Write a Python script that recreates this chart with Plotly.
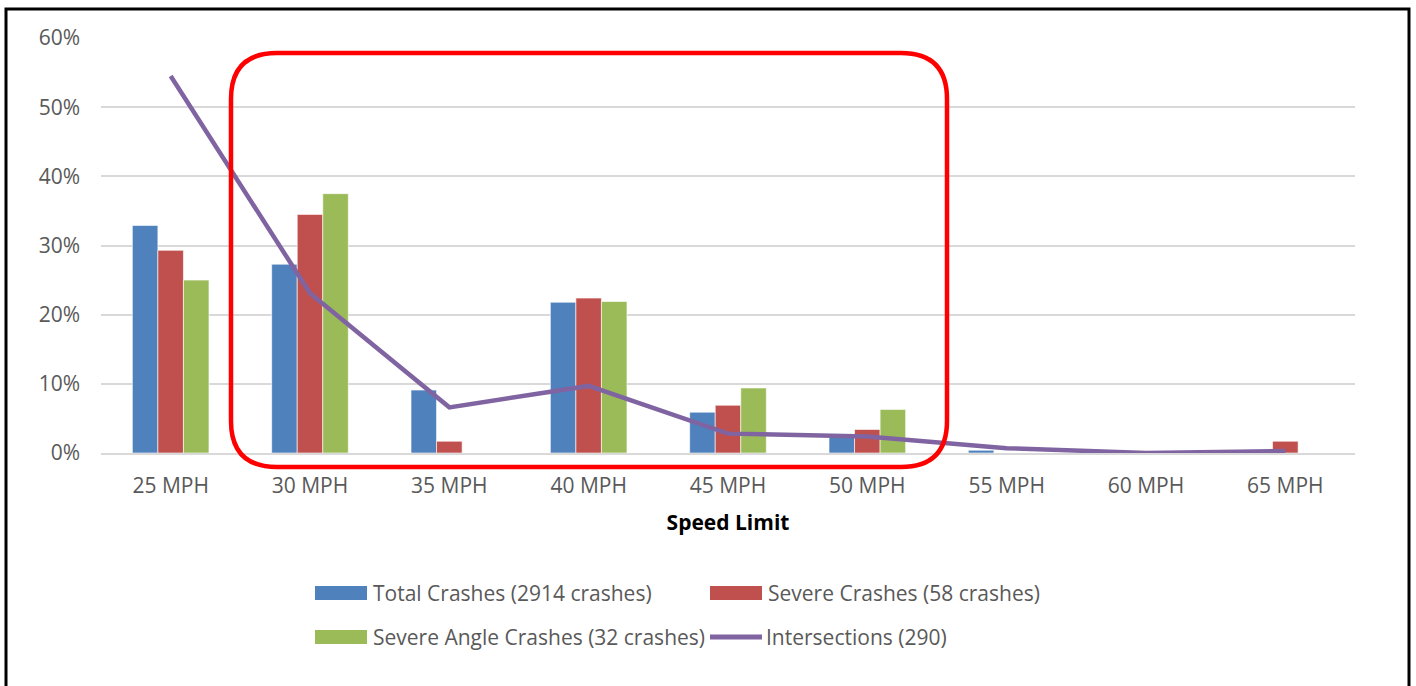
import plotly.graph_objects as go

categories = ["25 MPH", "30 MPH", "35 MPH", "40 MPH", "45 MPH", "50 MPH", "55 MPH", "60 MPH", "65 MPH"]
total_crashes = [32.9, 27.3, 9.1, 21.8, 5.9, 2.3, 0.4, 0.0, 0.0]
severe_crashes = [29.3, 34.5, 1.7, 22.4, 6.9, 3.4, 0.0, 0.0, 1.7]
severe_angle = [25.0, 37.5, 0.0, 21.9, 9.4, 6.3, 0.0, 0.0, 0.0]
intersections = [54.5, 23.1, 6.6, 9.7, 2.8, 2.4, 0.7, 0.0, 0.3]
names = ["Total Crashes (2914 crashes)", "Severe Crashes (58 crashes)",
         "Severe Angle Crashes (32 crashes)", "Intersections (290)"]
colors = ["#4f81bd", "#c0504d", "#9bbb59", "#8064a2"]

W, H = 1416, 686
L, R, T, B = 101, 1355, 38, 453
FONT = "Open Sans"
TXT = "#595959"

def px(x):
    return (x - L) / (R - L)

def py(y):
    return (B - y) / (B - T)

fig = go.Figure()
for vals, nm, c in zip([total_crashes, severe_crashes, severe_angle], names[:3], colors[:3]):
    fig.add_trace(go.Bar(x=categories, y=vals, name=nm, marker_color=c,
                         marker_line=dict(color="rgba(255,255,255,0.6)", width=1),
                         showlegend=False))
fig.add_trace(go.Scatter(x=categories, y=intersections, name=names[3], mode="lines",
                         line=dict(color=colors[3], width=4.5), showlegend=False))

shapes = []
# outer black frame
shapes.append(dict(type="rect", xref="paper", yref="paper", x0=px(6), x1=px(1409), y0=py(9), y1=py(700),
                   line=dict(color="black", width=3), fillcolor="rgba(0,0,0,0)", layer="above"))
# red rounded rectangle
x0, x1, y0, y1, r = 231, 947, 53, 467, 46

def P(x, y):
    return f"{px(x)},{py(y)}"

path = (f"M {P(x0 + r, y0)} L {P(x1 - r, y0)} Q {P(x1, y0)} {P(x1, y0 + r)} "
        f"L {P(x1, y1 - r)} Q {P(x1, y1)} {P(x1 - r, y1)} "
        f"L {P(x0 + r, y1)} Q {P(x0, y1)} {P(x0, y1 - r)} "
        f"L {P(x0, y0 + r)} Q {P(x0, y0)} {P(x0 + r, y0)} Z")
shapes.append(dict(type="path", xref="paper", yref="paper", path=path,
                   line=dict(color="#ff0000", width=4.5), layer="above"))

# custom legend
annotations = []
legend_items = [
    (names[0], colors[0], "bar", 315, 593),
    (names[1], colors[1], "bar", 710, 593),
    (names[2], colors[2], "bar", 315, 637),
    (names[3], colors[3], "line", 708, 637),
]
for nm, c, kind, sx, sy in legend_items:
    if kind == "bar":
        shapes.append(dict(type="rect", xref="paper", yref="paper", x0=px(sx), x1=px(sx + 52),
                           y0=py(sy - 7), y1=py(sy + 7), fillcolor=c, line=dict(width=0)))
    else:
        shapes.append(dict(type="line", xref="paper", yref="paper", x0=px(sx + 2), x1=px(sx + 54),
                           y0=py(sy), y1=py(sy), line=dict(color=c, width=5)))
    annotations.append(dict(text=nm, xref="paper", yref="paper", x=px(sx + 56), y=py(sy),
                            xanchor="left", yanchor="middle", showarrow=False,
                            font=dict(family=FONT, size=21, color=TXT)))

fig.update_layout(
    width=W, height=H,
    margin=dict(l=L, r=W - R, t=T, b=H - B),
    paper_bgcolor="white", plot_bgcolor="white",
    barmode="group", bargap=0.45, bargroupgap=0,
    font=dict(family=FONT, size=21, color=TXT),
    shapes=shapes, annotations=annotations,
    xaxis=dict(showgrid=False, showline=True, linecolor="#d9d9d9", linewidth=1.5,
               ticks="", tickfont=dict(size=21, color=TXT), ticklabelstandoff=13,
               title=dict(text="<b>Speed Limit</b>", font=dict(size=21, color="black"), standoff=17)),
    yaxis=dict(range=[0, 60], dtick=10, ticksuffix="%", showgrid=True, gridcolor="#d9d9d9",
               gridwidth=1.5, zeroline=False, ticks="", tickfont=dict(size=21, color=TXT),
               ticklabelstandoff=20),
)

fig.write_html("out.html", config={"displayModeBar": False},
               post_script="document.body.style.margin='0';document.body.style.overflow='hidden';")
